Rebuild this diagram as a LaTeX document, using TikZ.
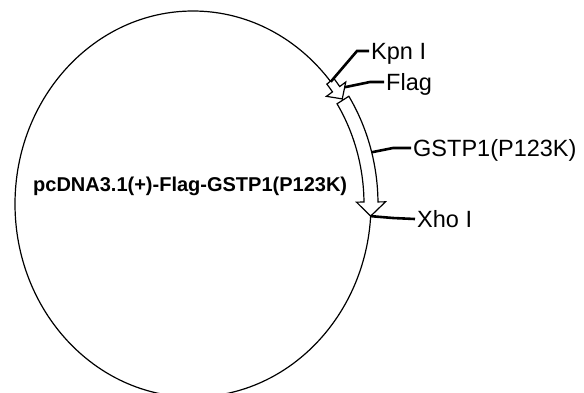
\documentclass[tikz,border=0pt]{standalone}
\usepackage{fontspec}
\setmainfont{Liberation Sans}
\usetikzlibrary{calc}
\newcommand{\xrad}{178}
\newcommand{\yrad}{193}
% feature arrow along the ellipse: start, head base, tip, body half width, head half width
\newcommand{\featarrow}[5]{%
\filldraw[feature] ($(o)+({(\xrad+#4)*cos(#1)},{(\yrad+#4)*sin(#1)})$)
  arc[start angle=#1,end angle=#2,x radius={(\xrad+#4)*1pt},y radius={(\yrad+#4)*1pt}]
  -- ($(o)+({(\xrad+#5)*cos(#2)},{(\yrad+#5)*sin(#2)})$)
  -- ($(o)+({\xrad*cos(#3)},{\yrad*sin(#3)})$)
  -- ($(o)+({(\xrad-#5)*cos(#2)},{(\yrad-#5)*sin(#2)})$)
  -- ($(o)+({(\xrad-#4)*cos(#2)},{(\yrad-#4)*sin(#2)})$)
  arc[start angle=#2,end angle=#1,x radius={(\xrad-#4)*1pt},y radius={(\yrad-#4)*1pt}]
  -- cycle;}

\begin{document}
\begin{tikzpicture}[x=1pt,y=1pt,
  leader/.style={line width=2.6pt},
  feature/.style={draw=black,fill=white,line width=1.2pt},
  site/.style={font=\fontsize{23.5}{28}\selectfont,text height=17pt,text depth=0pt,inner sep=2pt,anchor=west}]
\useasboundingbox (0,0) rectangle (584,-392);
\coordinate (o) at (193,-204);
\draw[line width=1.2pt] (o) ellipse [x radius=\xrad pt, y radius=\yrad pt];

\featarrow{39.5}{36.5}{33}{4.5}{12}
\featarrow{32.6}{0.6}{-3.6}{7}{14.5}

\coordinate (kpn-site) at ($(o)+({\xrad*cos(39.3)},{\yrad*sin(39.3)})$);
\coordinate (flag-site) at ($(o)+({(\xrad+8)*cos(35.5)},{(\yrad+8)*sin(35.5)})$);
\coordinate (gstp-site) at ($(o)+({(\xrad+7)*cos(15)},{(\yrad+7)*sin(15)})$);
\coordinate (xho-site) at ($(o)+({\xrad*cos(-3.6)},{\yrad*sin(-3.6)})$);
\coordinate (kpn-bend) at (357,-51);
\coordinate (flag-bend) at (370,-82);
\coordinate (gstp-bend) at (393,-148);
\coordinate (xho-bend) at (393,-218);

\node[site] (kpn) at (369,-51) {Kpn I};
\node[site] (flag) at (384,-82) {Flag};
\node[site] (gstp) at (411,-148) {GSTP1(P123K)};
\node[site] (xho) at (415,-219) {Xho I};
\foreach \s in {kpn,flag,gstp,xho}{
\draw[leader] (\s-site) -- (\s-bend) -- (\s.west);
}

\node[font=\bfseries\fontsize{20}{24}\selectfont,anchor=base west,inner sep=0pt] (plasmid) at (33,-191) {pcDNA3.1(+)-Flag-GSTP1(P123K)};
\end{tikzpicture}
\end{document}
